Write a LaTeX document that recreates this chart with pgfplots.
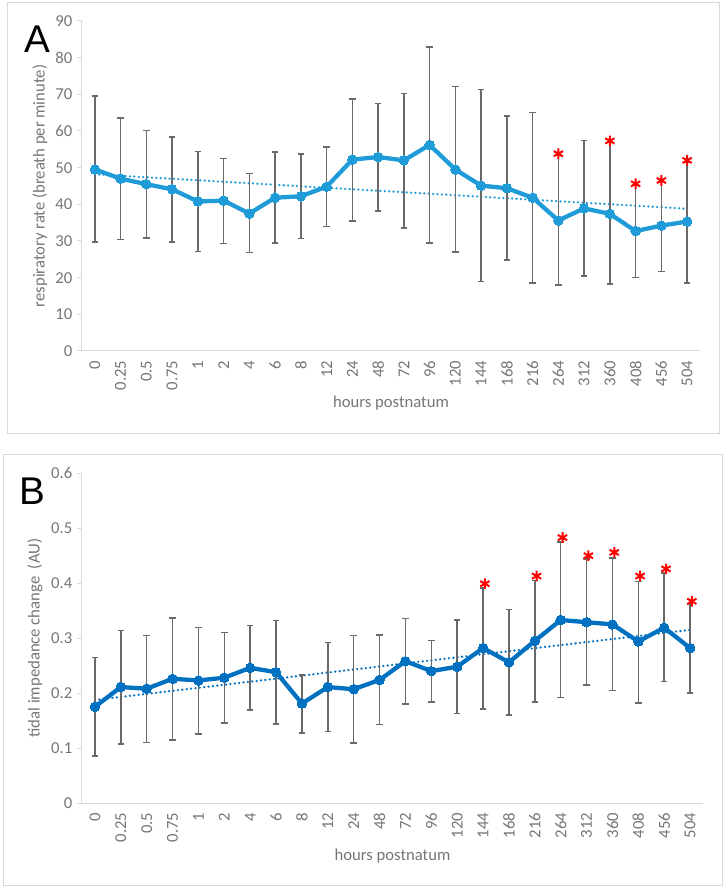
\documentclass[border=0pt]{standalone}
\usepackage{fontspec}
\setmainfont{Carlito}
\newfontfamily\letterfont{Liberation Sans}
\usepackage{pgfplots}
\pgfplotsset{compat=1.18}
\usepackage{pgfplotstable}

\definecolor{lineA}{RGB}{31,155,216}
\definecolor{lineB}{RGB}{0,112,192}
\definecolor{errgray}{RGB}{105,105,105}
\definecolor{txtgray}{RGB}{118,118,118}
\definecolor{axgray}{RGB}{217,217,217}

% index, mean, upper end of bar, lower end of bar
\pgfplotstableread{
i  m     hi    lo
0  49.5  69.5  29.7
1  47.0  63.6  30.4
2  45.5  60.1  30.8
3  44.1  58.4  29.8
4  40.8  54.4  27.1
5  41.0  52.5  29.3
6  37.5  48.4  26.9
7  41.8  54.2  29.5
8  42.2  53.7  30.7
9  44.8  55.7  33.9
10 52.2  68.7  35.5
11 52.9  67.5  38.2
12 52.0  70.2  33.6
13 56.2  82.9  29.4
14 49.5  72.1  27.0
15 45.1  71.3  18.9
16 44.4  64.1  24.8
17 41.8  65.0  18.6
18 35.6  53.5  18.0
19 38.9  57.4  20.4
20 37.4  57.0  18.2
21 32.7  45.3  20.0
22 34.2  46.2  21.7
23 35.3  51.6  18.6
}\dataA

\pgfplotstableread{
i  m      hi     lo
0  0.175  0.265  0.086
1  0.211  0.314  0.107
2  0.208  0.305  0.110
3  0.226  0.337  0.115
4  0.223  0.319  0.126
5  0.228  0.310  0.146
6  0.246  0.323  0.169
7  0.238  0.332  0.144
8  0.181  0.233  0.127
9  0.211  0.292  0.130
10 0.207  0.305  0.109
11 0.224  0.306  0.143
12 0.258  0.336  0.180
13 0.240  0.296  0.184
14 0.248  0.333  0.163
15 0.282  0.391  0.171
16 0.256  0.352  0.160
17 0.295  0.405  0.184
18 0.333  0.475  0.192
19 0.329  0.444  0.215
20 0.325  0.446  0.205
21 0.294  0.403  0.182
22 0.319  0.418  0.221
23 0.282  0.362  0.200
}\dataB

\pgfplotsset{
  panel/.style={
    scale only axis,
    xmin=-0.5, xmax=23.5,
    axis x line=bottom, axis y line=left,
    axis line style={axgray, line width=0.75pt, -},
    xtick={0,...,23},
    xticklabels={0,0.25,0.5,0.75,1,2,4,6,8,12,24,48,72,96,120,144,168,216,264,312,360,408,456,504},
    x tick style={draw=none},
    y tick style={axgray, line width=0.75pt},
    tick align=outside, major tick length=3.75pt,
    x tick label style={rotate=90, anchor=east, txtgray, font=\fontsize{12.5}{12.5}\selectfont},
    y tick label style={txtgray, font=\fontsize{12.5}{12.5}\selectfont},
    label style={txtgray, font=\fontsize{12.5}{14}\selectfont},
    /pgf/number format/assume math mode=true,
    clip=false,
  },
  bars/.style={
    forget plot, draw=none, mark=none,
    error bars/.cd, y dir=both, y explicit,
    error bar style={draw=errgray, line width=1.2pt},
    error mark options={rotate=90, draw=errgray, mark size=2.4pt, line width=1.2pt},
  },
  stars/.style={only marks, mark=asterisk, red, mark size=4pt, mark options={line width=1.5pt}},
  mainline/.style={#1, line width=3.2pt, line join=round, mark=*, mark size=3.6pt,
    mark options={fill=#1, draw=#1, line width=0pt}},
  trend/.style={#1, line width=1.9pt, line cap=round, dash pattern=on 0pt off 3.3pt},
}

\begin{document}
\begin{tikzpicture}
\useasboundingbox (0,0) rectangle (544.5pt,666.75pt);
\draw[axgray, line width=0.75pt] (5.25pt,341.25pt) rectangle (539.25pt,664.5pt);
\draw[axgray, line width=0.75pt] (2.25pt,2.25pt) rectangle (541.5pt,325.5pt);

% panel A
\begin{axis}[panel,
  at={(61.5pt,403.5pt)}, anchor=south west,
  width=463.5pt, height=247.5pt,
  ymin=0, ymax=90, ytick={0,10,...,90},
  xlabel={hours postnatum},
  ylabel={respiratory rate (breath per minute)},
  xlabel style={at={(axis description cs:0.5,-0.158)}, anchor=center},
  ylabel style={at={(axis description cs:-0.068,0.5)}, anchor=center},
]
\addplot[trend=lineA] coordinates {(0,48.2) (23,38.8)};
\addplot[bars] table[x=i, y=m, y error plus expr=\thisrow{hi}-\thisrow{m}, y error minus expr=\thisrow{m}-\thisrow{lo}] {\dataA};
\addplot[mainline=lineA] table[x=i, y=m] {\dataA};
\addplot[stars] coordinates {(18,53.8) (20,57.3) (21,45.6) (22,46.5) (23,52.0)};
\end{axis}

% panel B
\begin{axis}[panel,
  at={(61.5pt,64.5pt)}, anchor=south west,
  width=465.75pt, height=247.3pt,
  ymin=0, ymax=0.6, ytick={0,0.1,...,0.6},
  xlabel={hours postnatum},
  ylabel={tidal impedance change\ \ (AU)},
  xlabel style={at={(axis description cs:0.5,-0.16)}, anchor=center},
  ylabel style={at={(axis description cs:-0.0757,0.5)}, anchor=center},
]
\addplot[trend=lineB] coordinates {(0,0.1875) (23,0.315)};
\addplot[bars] table[x=i, y=m, y error plus expr=\thisrow{hi}-\thisrow{m}, y error minus expr=\thisrow{m}-\thisrow{lo}] {\dataB};
\addplot[mainline=lineB] table[x=i, y=m] {\dataB};
\addplot[stars] coordinates {(15.07,0.399) (17.07,0.413) (18.07,0.483) (19.07,0.450) (20.07,0.456) (21.07,0.413) (22.07,0.426) (23.07,0.367)};
\end{axis}

\node[font=\letterfont\fontsize{29}{30}\selectfont] at (27.75pt,637.5pt) {A};
\node[font=\letterfont\fontsize{29}{30}\selectfont] at (24.4pt,298.5pt) {B};
\end{tikzpicture}
\end{document}
